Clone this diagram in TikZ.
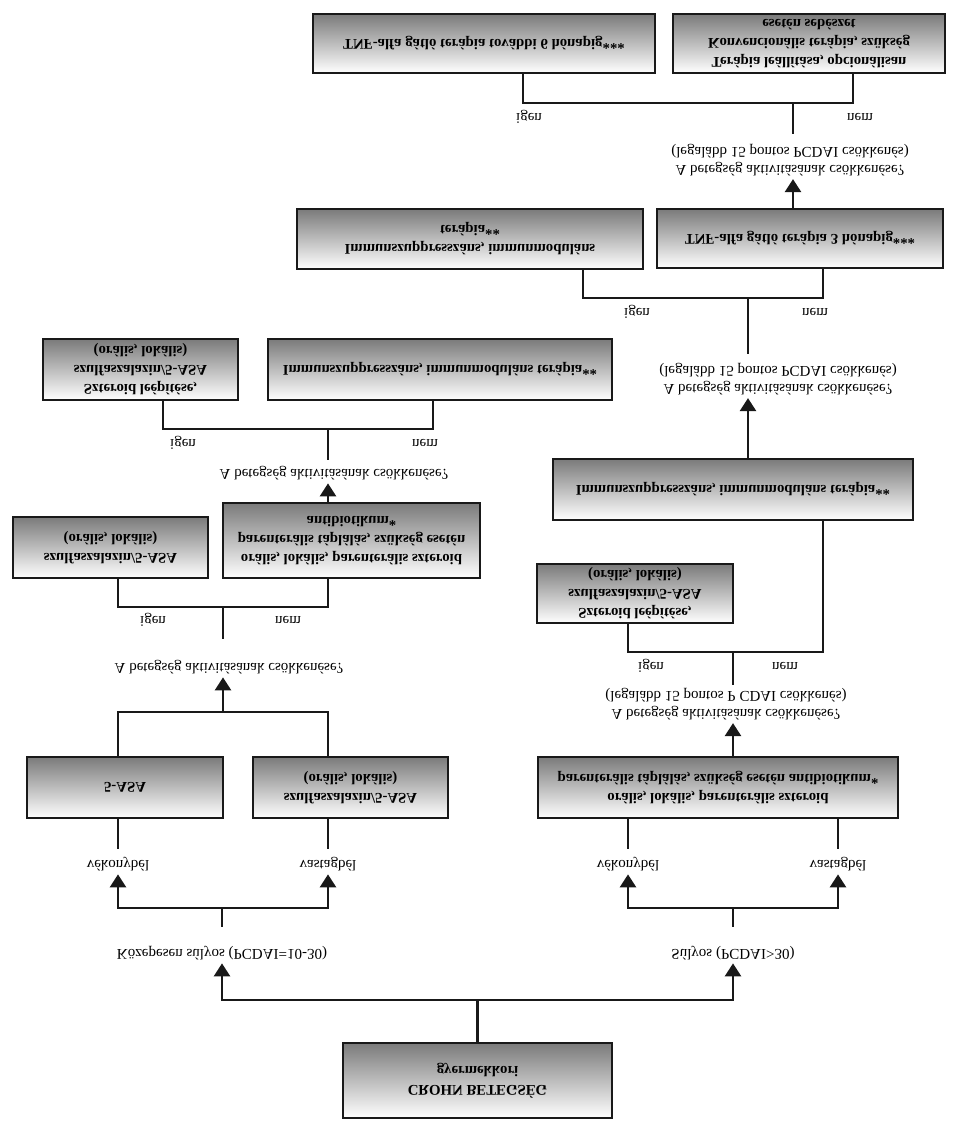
\documentclass[tikz,border=0pt]{standalone}
\usepackage{fontspec}
\setmainfont{Liberation Serif}
\usetikzlibrary{arrows.meta,calc}
\begin{document}
\begin{tikzpicture}[x=1pt,y=1pt,yscale=-1,
  every node/.style={transform shape, font=\fontsize{15}{17.5}\selectfont},
  box/.style={draw=black!90, line width=2.9pt, top color=black!52, bottom color=white,
    align=center, font=\fontsize{14.8}{19}\selectfont\bfseries},
  lbl/.style={align=center},
  conn/.style={draw=black!90, line width=2.6pt},
  arr/.style={-{Triangle[width=16pt,length=13pt]}}]
\useasboundingbox (0,0) rectangle (962,1129);

% boxes
\node[box,minimum width=342pt,minimum height=59pt] (T1) at (484,43.5) {TNF-alfa gátló terápia további 6 hónapig***};
\node[box,minimum width=272pt,minimum height=59pt] (T2) at (809,43.5) {Terápia leállítása, opcionálisan\\Konvencionális terápia, szükség\\esetén sebészet};
\node[box,minimum width=346pt,minimum height=60pt] (M1) at (470,239) {Immunszuppresszáns, immunmoduláns\\terápia**};
\node[box,minimum width=286pt,minimum height=59pt] (M2) at (800,238.5) {TNF-alfa gátló terápia 3 hónapig***};
\node[box,minimum width=360pt,minimum height=61pt] (M3) at (733,489.5) {Immunszuppresszáns, immunmoduláns terápia**};
\node[box,minimum width=196pt,minimum height=59pt] (R2) at (635,593.5) {Szteroid leépítése,\\szulfaszalazin/5-ASA\\(orális, lokális)};
\node[box,minimum width=360pt,minimum height=61pt] (R1) at (718,787.5) {orális, lokális, parenterális szteroid\\parenterális táplálás, szükség esetén antibiotikum*};
\node[box,minimum width=196pt,minimum height=61pt] (L5) at (125,787.5) {5-ASA};
\node[box,minimum width=195pt,minimum height=61pt] (L6) at (350.5,787.5) {szulfaszalazin/5-ASA\\(orális, lokális)};
\node[box,minimum width=195pt,minimum height=61pt] (L1) at (110.5,547.5) {szulfaszalazin/5-ASA\\(orális, lokális)};
\node[box,minimum width=257pt,minimum height=75pt] (L2) at (351.5,540.5) {orális, lokális, parenterális szteroid\\parenterális táplálás, szükség esetén\\antibiotikum*};
\node[box,minimum width=195pt,minimum height=61pt] (L3) at (140.5,369.5) {Szteroid leépítése,\\szulfaszalazin/5-ASA\\(orális, lokális)};
\node[box,minimum width=344pt,minimum height=61pt] (L4) at (440,369.5) {Immunszuppresszáns, immunmoduláns terápia**};
\node[box,minimum width=269pt,minimum height=75pt] (B) at (477.5,1080.5) {CROHN BETEGSÉG\\gyermekkori};

% labels
\node[lbl] (Q1) at (790,160) {A betegség aktivitásának csökkenése?\\(legalább 15 pontos PCDAI csökkenés)};
\node (i1) at (529,117) {igen}; \node (n1) at (860,117) {nem};
\node[lbl] (Q2) at (778,379) {A betegség aktivitásának csökkenése?\\(legalább 15 pontos PCDAI csökkenés)};
\node (i2) at (637,312) {igen}; \node (n2) at (815,312) {nem};
\node[lbl] (Q3) at (726,704) {A betegség aktivitásának csökkenése?\\(legalább 15 pontos P CDAI csökkenés)};
\node (i3) at (651,666) {igen}; \node (n3) at (785,666) {nem};
\node (Q4) at (229,667) {A betegség aktivitásának csökkenése?};
\node (i4) at (153,620) {igen}; \node (n4) at (288,620) {nem};
\node (Q5) at (334,473) {A betegség aktivitásának csökkenése?};
\node (i5) at (183,443) {igen}; \node (n5) at (425,443) {nem};
\node (vk1) at (118,864) {vékonybél}; \node (vs1) at (328,864) {vastagbél};
\node (vk2) at (628,864) {vékonybél}; \node (vs2) at (838,864) {vastagbél};
\node (K) at (222,953) {Közepesen súlyos (PCDAI=10-30)};
\node (S) at (733,953) {Súlyos (PCDAI>30)};

% connectors: bottom
\coordinate (jB) at (477.5,1000);
\draw[conn] (B.south) -- (jB);
\draw[conn,arr] (jB) -| (K.north);
\draw[conn,arr] (jB) -| (S.north);

\coordinate (jK) at (222,908);
\draw[conn,shorten <=16pt] (K.south) -- (jK);
\draw[conn,arr] (jK) -| (vk1.north);
\draw[conn,arr] (jK) -| (vs1.north);
\draw[conn,shorten <=5pt] (vk1.south) -- (vk1.south |- L5.north);
\draw[conn,shorten <=5pt] (vs1.south) -- (vs1.south |- L6.north);

\coordinate (jS) at (733,908);
\draw[conn,shorten <=16pt] (S.south) -- (jS);
\draw[conn,arr] (jS) -| (vk2.north);
\draw[conn,arr] (jS) -| (vs2.north);
\draw[conn,shorten <=5pt] (vk2.south) -- (vk2.south |- R1.north);
\draw[conn,shorten <=5pt] (vs2.south) -- (vs2.south |- R1.north);

% left column
\coordinate (jL) at (223,712);
\draw[conn] (L5.south -| vk1) -- (vk1 |- jL) -- (vs1 |- jL) -- (L6.south -| vs1);
\draw[conn,arr] (jL) -- (jL |- Q4.north);

\coordinate (jQ4) at (223,607);
\draw[conn,shorten <=18pt] (jQ4 |- Q4.south) -- (jQ4);
\draw[conn] (L1.north -| 118,0) |- (jQ4) -| (L2.north -| 328,0);

\draw[conn,arr] (L2.south -| 328,0) -- (Q5.north -| 328,0);
\coordinate (jQ5) at (328,429);
\draw[conn,shorten <=3pt] (jQ5 |- Q5.south) -- (jQ5);
\draw[conn] (L3.north -| 163,0) |- (jQ5) -| (L4.north -| 433,0);

% right column
\draw[conn,arr] (R1.south -| 733,0) -- (Q3.north -| 733,0);
\coordinate (jQ3) at (733,652);
\draw[conn] (jQ3 |- Q3.south) -- (jQ3);
\draw[conn] (R2.north -| 628,0) |- (jQ3) -| (M3.north -| 823,0);

\draw[conn,arr] (M3.south -| 748,0) -- (Q2.north -| 748,0);
\coordinate (jQ2) at (748,298);
\draw[conn,shorten <=6pt] (jQ2 |- Q2.south) -- (jQ2);
\draw[conn] (M1.north -| 583,0) |- (jQ2) -| (M2.north -| 823,0);

\draw[conn,arr] (M2.south -| 793,0) -- (Q1.north -| 793,0);
\coordinate (jQ1) at (793,103);
\draw[conn,shorten <=7pt] (jQ1 |- Q1.south) -- (jQ1);
\draw[conn] (T1.north -| 523,0) |- (jQ1) -| (T2.north -| 853,0);
\end{tikzpicture}
\end{document}
